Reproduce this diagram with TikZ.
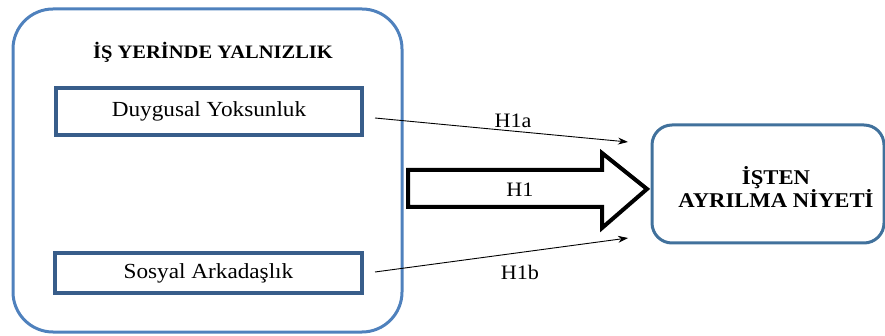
\documentclass[tikz,border=0pt]{standalone}
\usepackage{fontspec}
\setmainfont{Liberation Serif}[FakeStretch=1.08]
\usetikzlibrary{arrows.meta}
\definecolor{outerblue}{RGB}{79,129,189}
\definecolor{innerblue}{RGB}{56,93,138}
\definecolor{rightblue}{RGB}{65,113,156}
\tikzset{
  x=1pt,y=-1pt,
  outerbox/.style={draw=outerblue,line width=3pt,rounded corners=40pt,minimum width=389pt,minimum height=323pt,inner sep=0pt},
  dimbox/.style={draw=innerblue,line width=4.5pt,inner sep=0pt,font=\fontsize{21.5}{24}\selectfont},
  rightbox/.style={draw=rightblue,line width=3pt,rounded corners=20pt,minimum width=232pt,minimum height=118pt,inner sep=0pt},
  hyp/.style={font=\fontsize{20.5}{22}\selectfont},
  thinarrow/.style={line width=0.9pt,-{Stealth[length=10pt,width=7pt]}},
}
\begin{document}
\begin{tikzpicture}
\useasboundingbox (0,0) rectangle (885,336);
\node[outerbox] (outer) at (207.5,170.5) {};
\node[font=\bfseries\fontsize{19}{20}\selectfont] (title) at (213,52) {İŞ YERİNDE YALNIZLIK};
\node[dimbox,minimum width=306pt,minimum height=47pt] (duy) at (209,111.5) {Duygusal Yoksunluk};
\node[dimbox,minimum width=307pt,minimum height=40pt] (sos) at (208.5,273) {Sosyal Arkadaşlık};
\node[rightbox] (right) at (768,184) {};
\node[align=center,font=\bfseries\fontsize{21}{21}\selectfont] (dv) at (776,187) {İŞTEN\\AYRILMA NİYETİ};
% big arrow
\draw[line width=4pt,line join=miter,fill=white]
  (408,170) -- (602,170) -- (602,153) -- (647,189) -- (602,228) -- (602,207) -- (408,207) -- cycle;
\node[hyp] (h1) at (520,190) {H1};
% thin arrows
\coordinate (a1s) at (375,118);
\coordinate (a1e) at (628,142);
\coordinate (b1s) at (375,272);
\coordinate (b1e) at (628,238);
\draw[thinarrow] (a1s) -- (a1e);
\draw[thinarrow] (b1s) -- (b1e);
\node[hyp] (h1a) at (513,121) {H1a};
\node[hyp] (h1b) at (520,272) {H1b};
\end{tikzpicture}
\end{document}
